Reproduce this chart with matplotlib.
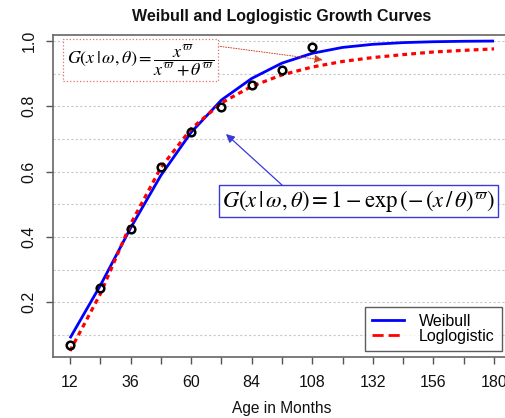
import matplotlib
matplotlib.use("Agg")
import matplotlib.pyplot as plt
from matplotlib.lines import Line2D

plt.rcParams["font.family"] = ["Liberation Sans", "DejaVu Sans"]
plt.rcParams["mathtext.fontset"] = "stix"

# Observed cumulative proportions by age (months)
obs_age = [12, 24, 36, 48, 60, 72, 84, 96, 108]
obs_prop = [0.069, 0.243, 0.423, 0.613, 0.722, 0.797, 0.865, 0.911, 0.982]

# Fitted growth curves evaluated every 12 months
curve_age = [12, 24, 36, 48, 60, 72, 84, 96, 108, 120, 132, 144, 156, 168, 180]
weibull = [0.090, 0.251, 0.427, 0.588, 0.720, 0.819, 0.885, 0.932, 0.962,
           0.980, 0.9895, 0.9947, 0.9974, 0.9988, 0.9995]
loglogistic = [0.051, 0.225, 0.439, 0.612, 0.731, 0.810, 0.861, 0.896, 0.920,
               0.937, 0.949, 0.958, 0.966, 0.971, 0.9755]

xticks_all = list(range(12, 181, 12))
xtick_labels = [12, 36, 60, 84, 108, 132, 156, 180]
yticks = [0.2, 0.4, 0.6, 0.8, 1.0]
ygrid = [0.1, 0.2, 0.3, 0.4, 0.5, 0.6, 0.7, 0.8, 0.9, 1.0]

W, H = 506, 418
fig = plt.figure(figsize=(W / 100, H / 100), dpi=100)
# plotting region (pixels): x 53..511, y 35..357 ; right part runs off the canvas
ax = fig.add_axes([53 / W, 1 - 357 / H, (511 - 53) / W, (357 - 35) / H])

ax.set_xlim(5.28, 186.72)
ax.set_ylim(0.0325, 1.018)

for g in ygrid:
    ax.axhline(g, color="#c8c8c8", lw=0.8, ls=(0, (2, 2)), zorder=0)

ax.plot(curve_age, weibull, color="#0000ff", lw=2.0, zorder=2,
        solid_capstyle="butt")
ax.plot(curve_age, loglogistic, color="#ff0000", lw=2.3,
        ls=(0, (1.5, 1.3)), zorder=2)
ax.plot(obs_age, obs_prop, "o", ms=5.5, mfc="none", mec="black", mew=1.8,
        zorder=3)

ax.set_xticks(xticks_all)
ax.set_xticklabels([str(t) if t in xtick_labels else "" for t in xticks_all])
ax.set_yticks(yticks)
ax.set_yticklabels([f"{v:.1f}" for v in yticks], rotation=90, va="center")
ax.tick_params(axis="both", length=5, width=1.0, color="#555555",
               labelsize=11.5, labelcolor="#111111")
ax.tick_params(axis="x", pad=8)
ax.tick_params(axis="y", pad=7)
for s in ax.spines.values():
    s.set_color("#666666")
    s.set_linewidth(1.2)

fig.text(282 / W, 1 - 16 / H, "Weibull and Loglogistic Growth Curves",
         fontsize=11.5, fontweight="bold", ha="center", va="center",
         color="#111111")
fig.text(282 / W, 1 - 409 / H, "Age in Months", fontsize=11.2,
         ha="center", va="center", color="#111111")

# Loglogistic formula box with pointer
ax.text(39.9, 0.940,
        r"$G(x\,|\,\omega,\theta) = \dfrac{x^{\varpi}}{x^{\varpi}+\theta^{\varpi}}$",
        fontsize=13, ha="center", va="center", zorder=5,
        bbox=dict(boxstyle="square,pad=0.2", fc="white", ec="#e07070",
                  lw=0.9, ls=":"))
ax.annotate("", xy=(112.2, 0.9415), xytext=(70.65, 0.984), zorder=4,
            arrowprops=dict(arrowstyle="-|>,head_length=0.5,head_width=0.25",
                            color="#d04020", lw=0.7, ls=":",
                            shrinkA=0, shrinkB=0))

# Weibull formula box with pointer
ax.annotate("", xy=(73.8, 0.715), xytext=(96.4, 0.556), zorder=4,
            arrowprops=dict(arrowstyle="-|>,head_length=0.5,head_width=0.25",
                            color="#3a3ad8", lw=0.9,
                            shrinkA=0, shrinkB=0))
ax.text(72.2, 0.510,
        r"$G(x\,|\,\omega,\theta) = 1 - \exp\left(-\,(x\,/\,\theta)^{\varpi}\right)$",
        fontsize=16.3, ha="left", va="center", zorder=5,
        bbox=dict(boxstyle="square,pad=0.12", fc="white", ec="#3a3ad8",
                  lw=1.0))

handles = [Line2D([], [], color="#0000ff", lw=2.0),
           Line2D([], [], color="#ff0000", lw=2.0, ls=(0, (4, 1.8)))]
leg = fig.legend(handles, ["Weibull", "Loglogistic"], loc="lower right",
                 bbox_to_anchor=(502 / W, 1 - 351 / H), fontsize=11.5,
                 frameon=True, fancybox=False, edgecolor="#333333",
                 handlelength=2.0, handletextpad=0.95, borderpad=0.45,
                 labelspacing=0.0, borderaxespad=0)
leg.get_frame().set_linewidth(1.0)

fig.savefig("out.png", dpi=100)
